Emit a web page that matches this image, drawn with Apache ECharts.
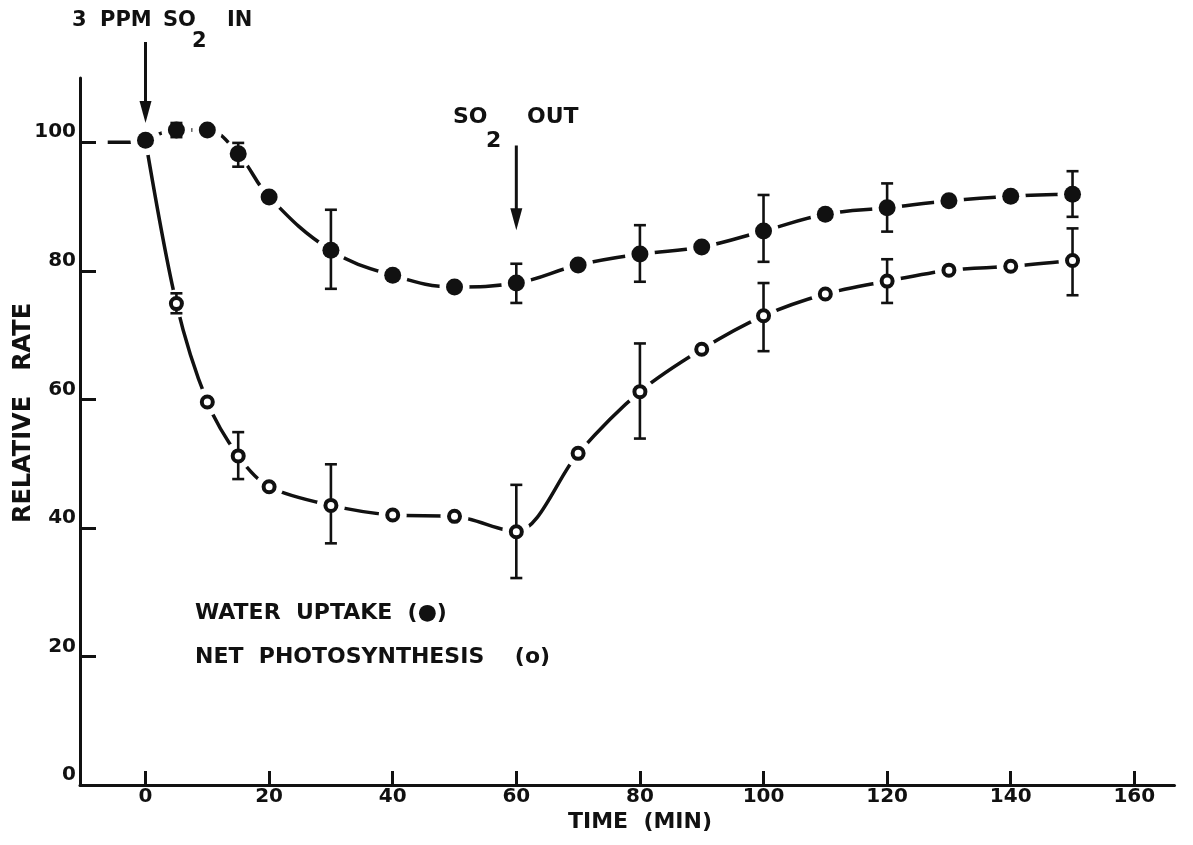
<!DOCTYPE html>
<html>
<head>
<meta charset="utf-8">
<script src="https://cdn.jsdelivr.net/npm/echarts@6/dist/echarts.min.js"></script>
<style>
  html, body { margin: 0; padding: 0; background: #fff; }
  #chart { width: 1193px; height: 845px; }
</style>
</head>
<body>
<div id="chart"></div>
<script>
// Sampling times (minutes) and relative rates (%) of both measurements
const timeMin = [0, 5, 10, 15, 20, 30, 40, 50, 60, 70, 80, 90, 100, 110, 120, 130, 140, 150];
const waterUptake = [100.3, 101.9, 101.9, 98.2, 91.5, 83.2, 79.3, 77.5, 78.1, 80.9, 82.6, 83.7, 86.2, 88.8, 89.8, 90.9, 91.6, 91.9];
const netPhotosynthesis = [100.3, 74.9, 59.6, 51.2, 46.4, 43.5, 42.0, 41.8, 39.4, 51.6, 61.2, 67.8, 73.0, 76.4, 78.4, 80.1, 80.7, 81.6];

// Rate before exposure started
const preExposureTime = [-10, 0];
const preExposureRate = [100, 100];

// Error bar ranges
const errTime = [5, 15, 30, 60, 80, 100, 120, 150];
const waterLow = [100.8, 96.2, 77.2, 75.0, 78.3, 81.4, 86.1, 88.4];
const waterHigh = [103.0, 99.9, 89.5, 81.1, 87.1, 91.8, 93.6, 95.5];
const photoLow = [73.4, 47.6, 37.6, 32.2, 53.9, 67.5, 75.0, 76.2];
const photoHigh = [76.5, 54.9, 49.9, 46.7, 68.7, 78.1, 81.8, 86.6];

// SO2 switching arrows: time, start rate, tip rate
const arrowTime = [0, 60];
const arrowFrom = [115.6, 99.5];
const arrowTo = [103.0, 86.3];

// Axis ticks
const xTicks = [0, 20, 40, 60, 80, 100, 120, 140, 160];
const yTicks = [0, 20, 40, 60, 80, 100];

const INK = '#111';
const FONT = '"DejaVu Sans", "Liberation Sans", sans-serif';

const pairs = (xs, ys) => xs.map((x, i) => [x, ys[i]]);
const waterData = pairs(timeMin, waterUptake);
const photoData = pairs(timeMin, netPhotosynthesis);
const photoMarkers = photoData.slice(1); // the t=0 point is shared with water uptake
const waterErr = errTime.map((t, i) => [t, waterLow[i], waterHigh[i]]);
const photoErr = errTime.map((t, i) => [t, photoLow[i], photoHigh[i]]);
const arrows = arrowTime.map((t, i) => [t, arrowFrom[i], arrowTo[i]]);

// white clearance that opens the curve around every plotted point
function haloRenderer(r) {
  return function (params, api) {
    const p = api.coord([api.value(0), api.value(1)]);
    return { type: 'circle', z2: 0, shape: { cx: p[0], cy: p[1], r: r }, style: { fill: '#ffffff', stroke: null } };
  };
}

function renderFilled(params, api) {
  const p = api.coord([api.value(0), api.value(1)]);
  return { type: 'circle', shape: { cx: p[0], cy: p[1], r: 8.5 }, style: { fill: INK } };
}

function renderOpen(params, api) {
  const p = api.coord([api.value(0), api.value(1)]);
  return { type: 'circle', shape: { cx: p[0], cy: p[1], r: 5.5 }, style: { fill: '#fff', stroke: INK, lineWidth: 4 } };
}

function renderErrorBar(params, api) {
  const x = api.value(0);
  const lo = api.coord([x, api.value(1)]);
  const hi = api.coord([x, api.value(2)]);
  const cap = 6;
  const style = { stroke: INK, lineWidth: 2.6, fill: null };
  return {
    type: 'group',
    children: [
      { type: 'line', shape: { x1: lo[0], y1: lo[1], x2: hi[0], y2: hi[1] }, style },
      { type: 'line', shape: { x1: hi[0] - cap, y1: hi[1], x2: hi[0] + cap, y2: hi[1] }, style },
      { type: 'line', shape: { x1: lo[0] - cap, y1: lo[1], x2: lo[0] + cap, y2: lo[1] }, style }
    ]
  };
}

function renderArrow(params, api) {
  const x = api.value(0);
  const a = api.coord([x, api.value(1)]);
  const b = api.coord([x, api.value(2)]);
  const headLen = 22, headHalf = 6;
  return {
    type: 'group',
    children: [
      { type: 'line', shape: { x1: a[0], y1: a[1], x2: b[0], y2: b[1] - headLen + 2 },
        style: { stroke: INK, lineWidth: 3 } },
      { type: 'polygon', shape: { points: [[b[0] - headHalf, b[1] - headLen], [b[0] + headHalf, b[1] - headLen], [b[0], b[1]]] },
        style: { fill: INK } }
    ]
  };
}

function txt(x, y, s, size, align) {
  const a = align || 'left';
  return {
    type: 'text', x: x, y: y, silent: true,
    style: {
      text: s, fill: INK, font: 'bold ' + size + 'px ' + FONT,
      textAlign: a, textVerticalAlign: 'middle', align: a, verticalAlign: 'middle'
    }
  };
}

const chart = echarts.init(document.getElementById('chart'), null, { renderer: 'canvas' });

chart.setOption({
  backgroundColor: '#fff',
  animation: false,
  grid: { left: 80, right: 18.5, top: 78, bottom: 60, containLabel: false },
  xAxis: {
    type: 'value', min: -10.6, max: 166.5,
    axisLine: { onZero: false, lineStyle: { color: INK, width: 3 } },
    axisTick: { inside: true, length: 14, customValues: xTicks, lineStyle: { color: INK, width: 3 } },
    axisLabel: { customValues: xTicks, margin: 2, color: INK, fontSize: 20, fontWeight: 'bold', fontFamily: FONT },
    splitLine: { show: false }
  },
  yAxis: {
    type: 'value', min: 0, max: 110,
    axisLine: { onZero: false, lineStyle: { color: INK, width: 3 } },
    axisTick: { inside: true, length: 16, customValues: yTicks, lineStyle: { color: INK, width: 3 } },
    axisLabel: { customValues: yTicks, margin: 4, color: INK, fontSize: 20, fontWeight: 'bold', fontFamily: FONT, verticalAlign: 'bottom', lineHeight: 20 },
    splitLine: { show: false }
  },
  graphic: [
    txt(72, 21, '3', 21),
    txt(100, 21, 'PPM', 21),
    txt(163, 21, 'SO', 21),
    txt(192, 42, '2', 21),
    txt(227, 21, 'IN', 21),
    txt(453, 117, 'SO', 22),
    txt(486, 141, '2', 22),
    txt(527, 117, 'OUT', 22),
    txt(195, 613, 'WATER  UPTAKE  (\u25CF)', 22),
    txt(195, 657, 'NET  PHOTOSYNTHESIS    (o)', 22),
    txt(640, 822, 'TIME  (MIN)', 22, 'center'),
    { type: 'text', x: 24, y: 413, rotation: Math.PI / 2, silent: true,
      style: { text: 'RELATIVE   RATE', fill: INK, font: 'bold 24px ' + FONT,
        textAlign: 'center', textVerticalAlign: 'middle', align: 'center', verticalAlign: 'middle' } }
  ],
  series: [
    { name: 'pre', type: 'line', data: pairs(preExposureTime, preExposureRate), symbol: 'none', z: 1, zlevel: 0,
      lineStyle: { color: INK, width: 3.5, type: [0, 24, 200] } },
    { name: 'WATER UPTAKE', type: 'line', data: waterData, smooth: 0.4, symbol: 'none', z: 1, zlevel: 0,
      lineStyle: { color: INK, width: 3.5 } },
    { name: 'NET PHOTOSYNTHESIS', type: 'line', data: photoData, smooth: 0.3, symbol: 'none', z: 1, zlevel: 0,
      lineStyle: { color: INK, width: 3.5 } },
    { type: 'custom', data: waterData, renderItem: haloRenderer(15), z: 20, zlevel: 1, silent: true, clip: false },
    { type: 'custom', data: photoMarkers, renderItem: haloRenderer(14), z: 20, zlevel: 1, silent: true, clip: false },
    { type: 'custom', data: waterErr, renderItem: renderErrorBar, z: 21, zlevel: 1, silent: true, clip: false },
    { type: 'custom', data: photoErr, renderItem: renderErrorBar, z: 21, zlevel: 1, silent: true, clip: false },
    { type: 'custom', data: waterData, renderItem: renderFilled, z: 22, zlevel: 1, silent: true, clip: false },
    { type: 'custom', data: photoMarkers, renderItem: renderOpen, z: 22, zlevel: 1, silent: true, clip: false },
    { type: 'custom', data: arrows, renderItem: renderArrow, z: 22, zlevel: 1, silent: true, clip: false }
  ]
});
</script>
</body>
</html>
